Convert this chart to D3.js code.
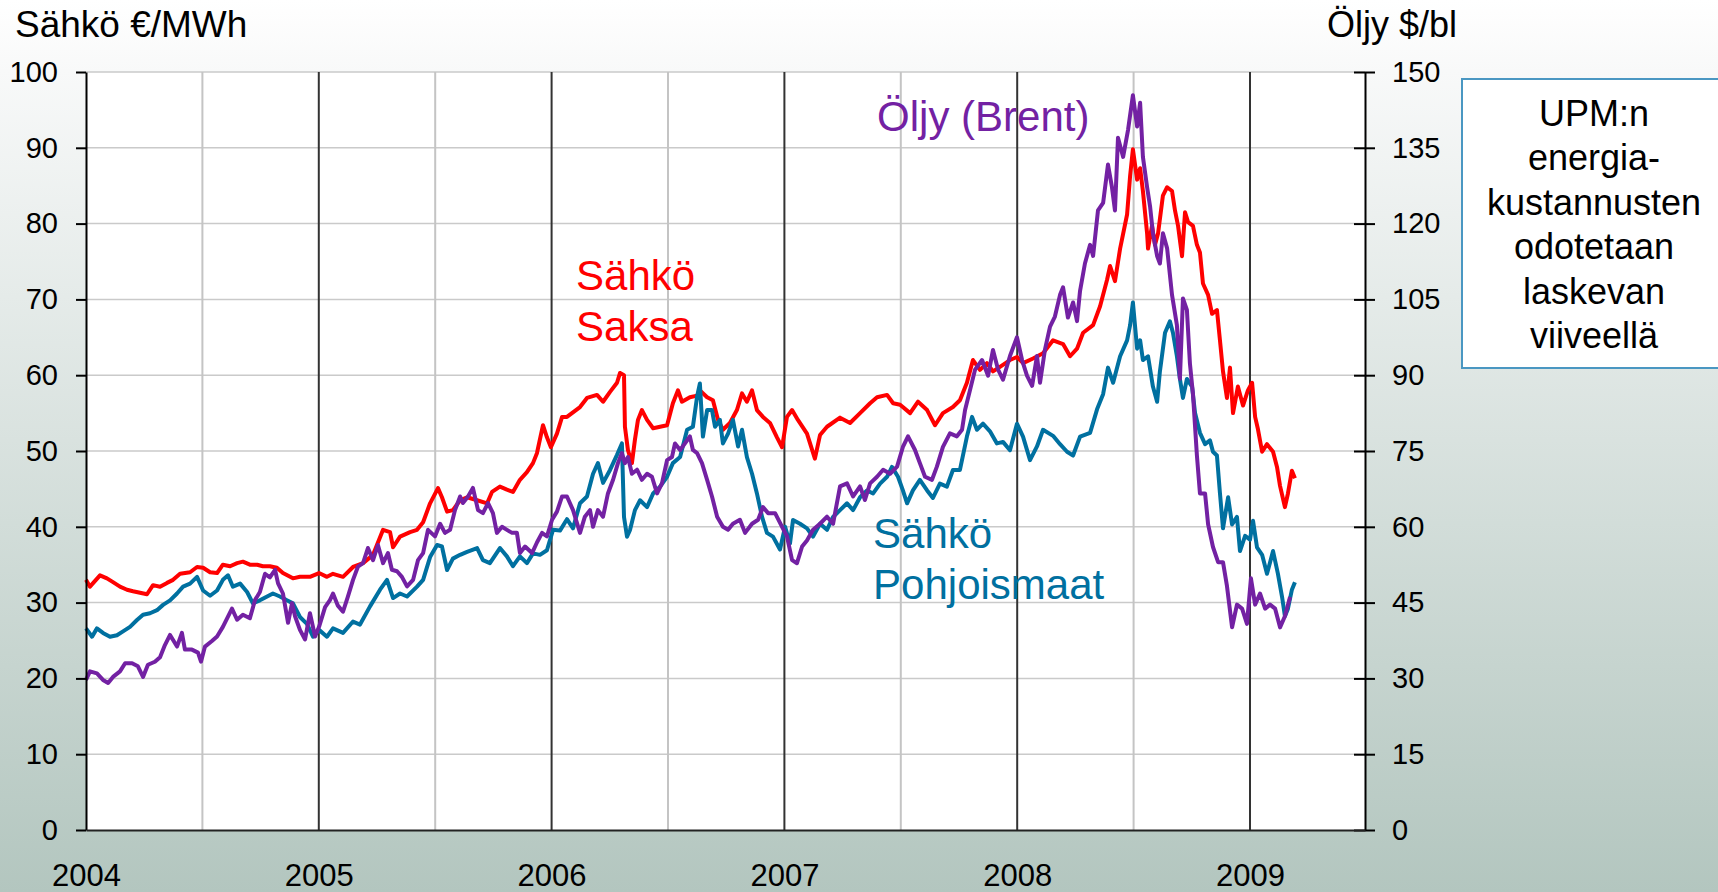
<!DOCTYPE html>
<html>
<head>
<meta charset="utf-8">
<script src="https://cdn.jsdelivr.net/npm/d3@7"></script>
<style>
  body { margin: 0; overflow: hidden; }
  text { font-family: "Liberation Sans", Arial, sans-serif; }
</style>
</head>
<body>
<div id="chart"></div>
<script>
// tick values
var years = [2004, 2005, 2006, 2007, 2008, 2009];
var halfYears = [2004.5, 2005.5, 2006.5, 2007.5, 2008.5];
var leftTicks = [0, 10, 20, 30, 40, 50, 60, 70, 80, 90, 100];
var rightTicks = [0, 15, 30, 45, 60, 75, 90, 105, 120, 135, 150];
var boxLines = ["UPM:n", "energia-", "kustannusten", "odotetaan", "laskevan", "viiveellä"];

// Sähkö Saksa, €/MWh  [decimal year, value]
var saksa = [[2004.000,33.0],[2004.017,32.1],[2004.060,33.6],[2004.090,33.2],[2004.116,32.7],[2004.146,32.1],[2004.176,31.7],[2004.202,31.5],[2004.232,31.3],[2004.262,31.1],[2004.288,32.3],[2004.318,32.1],[2004.348,32.6],[2004.374,33.0],[2004.404,33.8],[2004.447,34.0],[2004.477,34.7],[2004.503,34.6],[2004.533,34.0],[2004.563,33.9],[2004.588,35.0],[2004.619,34.8],[2004.649,35.2],[2004.674,35.4],[2004.704,35.0],[2004.735,35.0],[2004.760,34.8],[2004.790,34.8],[2004.820,34.6],[2004.846,33.9],[2004.889,33.2],[2004.919,33.4],[2004.962,33.4],[2005.001,33.9],[2005.035,33.4],[2005.061,33.8],[2005.104,33.4],[2005.147,34.7],[2005.190,35.2],[2005.233,36.3],[2005.276,39.6],[2005.306,39.3],[2005.319,37.3],[2005.349,38.7],[2005.392,39.3],[2005.422,39.6],[2005.448,40.6],[2005.478,43.1],[2005.512,45.1],[2005.529,43.9],[2005.551,42.0],[2005.576,42.2],[2005.607,43.5],[2005.637,43.9],[2005.680,43.5],[2005.723,43.1],[2005.744,44.6],[2005.778,45.3],[2005.808,44.9],[2005.834,44.6],[2005.864,46.2],[2005.894,47.2],[2005.920,48.4],[2005.937,49.7],[2005.963,53.4],[2005.980,51.8],[2005.997,50.5],[2006.023,52.3],[2006.045,54.5],[2006.066,54.5],[2006.122,55.8],[2006.152,57.0],[2006.195,57.4],[2006.221,56.5],[2006.251,57.8],[2006.281,59.0],[2006.294,60.3],[2006.311,60.0],[2006.315,53.2],[2006.328,50.1],[2006.345,48.4],[2006.358,51.5],[2006.371,54.1],[2006.388,55.4],[2006.410,54.1],[2006.436,53.0],[2006.466,53.2],[2006.496,53.4],[2006.521,56.3],[2006.543,58.0],[2006.560,56.5],[2006.594,57.1],[2006.625,57.3],[2006.637,58.0],[2006.668,57.1],[2006.693,56.7],[2006.715,54.1],[2006.736,52.8],[2006.766,53.7],[2006.796,55.4],[2006.818,57.6],[2006.839,56.5],[2006.861,58.0],[2006.882,55.4],[2006.908,54.5],[2006.938,53.7],[2006.968,51.8],[2006.990,50.5],[2007.011,54.5],[2007.033,55.4],[2007.058,54.1],[2007.097,52.3],[2007.131,49.0],[2007.153,52.1],[2007.183,53.2],[2007.239,54.4],[2007.282,53.7],[2007.325,55.0],[2007.368,56.3],[2007.398,57.1],[2007.441,57.4],[2007.467,56.3],[2007.497,56.1],[2007.540,55.0],[2007.574,56.5],[2007.613,55.4],[2007.647,53.4],[2007.681,55.0],[2007.724,55.8],[2007.754,56.7],[2007.784,59.0],[2007.810,62.0],[2007.840,60.7],[2007.870,61.6],[2007.896,60.5],[2007.926,61.1],[2007.969,62.0],[2007.999,62.4],[2008.025,61.6],[2008.068,62.2],[2008.111,62.9],[2008.154,64.6],[2008.197,64.1],[2008.227,62.5],[2008.257,63.5],[2008.283,65.6],[2008.326,66.6],[2008.356,69.1],[2008.386,72.6],[2008.399,74.4],[2008.420,72.4],[2008.442,76.7],[2008.472,81.2],[2008.485,86.3],[2008.497,89.8],[2008.515,85.8],[2008.528,87.3],[2008.540,84.3],[2008.558,78.7],[2008.562,76.7],[2008.579,79.7],[2008.592,77.2],[2008.605,78.7],[2008.626,83.7],[2008.644,84.8],[2008.665,84.3],[2008.678,81.7],[2008.691,79.7],[2008.708,75.7],[2008.721,81.5],[2008.734,80.2],[2008.755,79.7],[2008.772,77.2],[2008.785,76.2],[2008.798,72.1],[2008.820,70.6],[2008.837,68.1],[2008.858,68.6],[2008.871,64.6],[2008.884,60.5],[2008.901,57.0],[2008.914,61.0],[2008.927,55.0],[2008.948,58.5],[2008.970,56.0],[2008.991,58.0],[2009.009,59.0],[2009.022,54.5],[2009.034,52.9],[2009.052,49.9],[2009.073,50.9],[2009.099,49.9],[2009.116,47.9],[2009.129,45.4],[2009.150,42.6],[2009.163,44.4],[2009.180,47.4],[2009.193,46.4]];

// Sähkö Pohjoismaat, €/MWh
var pohjoismaat = [[2004.000,26.6],[2004.026,25.5],[2004.047,26.6],[2004.073,26.0],[2004.103,25.5],[2004.133,25.7],[2004.159,26.2],[2004.189,26.8],[2004.219,27.7],[2004.245,28.4],[2004.275,28.6],[2004.305,29.0],[2004.331,29.7],[2004.361,30.3],[2004.391,31.2],[2004.417,32.1],[2004.447,32.5],[2004.477,33.4],[2004.503,31.6],[2004.533,30.9],[2004.563,31.6],[2004.588,33.0],[2004.610,33.6],[2004.631,32.1],[2004.662,32.5],[2004.692,31.4],[2004.717,29.9],[2004.747,30.3],[2004.778,30.8],[2004.803,31.2],[2004.833,30.8],[2004.863,30.3],[2004.889,29.9],[2004.919,28.1],[2004.949,27.2],[2004.975,25.5],[2005.001,26.4],[2005.035,25.5],[2005.061,26.6],[2005.104,26.0],[2005.147,27.5],[2005.177,27.1],[2005.220,29.5],[2005.263,31.7],[2005.293,33.0],[2005.319,30.6],[2005.349,31.2],[2005.379,30.8],[2005.422,32.1],[2005.448,33.0],[2005.478,36.0],[2005.508,37.6],[2005.529,37.4],[2005.551,34.3],[2005.576,35.8],[2005.607,36.3],[2005.637,36.7],[2005.680,37.2],[2005.705,35.6],[2005.735,35.2],[2005.778,37.2],[2005.808,36.1],[2005.834,34.8],[2005.864,36.1],[2005.894,35.2],[2005.920,36.5],[2005.950,36.3],[2005.980,36.9],[2006.006,39.6],[2006.036,39.5],[2006.066,41.0],[2006.092,39.8],[2006.122,43.1],[2006.152,44.0],[2006.178,47.0],[2006.199,48.4],[2006.221,45.8],[2006.251,47.5],[2006.281,49.5],[2006.302,51.0],[2006.311,41.3],[2006.324,38.7],[2006.337,39.6],[2006.358,42.2],[2006.380,43.5],[2006.410,42.6],[2006.436,44.4],[2006.466,45.3],[2006.496,46.6],[2006.521,48.4],[2006.552,49.2],[2006.582,52.8],[2006.607,53.2],[2006.625,57.2],[2006.637,58.9],[2006.650,51.9],[2006.668,55.4],[2006.689,55.4],[2006.702,53.2],[2006.723,54.1],[2006.736,51.0],[2006.758,52.3],[2006.779,54.1],[2006.801,50.6],[2006.818,52.8],[2006.839,49.2],[2006.861,47.0],[2006.882,44.4],[2006.904,41.3],[2006.925,39.2],[2006.951,38.7],[2006.981,37.0],[2007.003,40.0],[2007.024,37.8],[2007.037,40.9],[2007.067,40.4],[2007.097,39.8],[2007.123,38.7],[2007.153,40.4],[2007.183,39.6],[2007.209,41.3],[2007.239,42.2],[2007.269,43.1],[2007.295,42.2],[2007.325,43.9],[2007.355,44.8],[2007.381,44.4],[2007.411,45.7],[2007.441,46.6],[2007.462,47.9],[2007.488,46.6],[2007.509,44.8],[2007.527,43.1],[2007.552,44.8],[2007.582,46.2],[2007.613,44.8],[2007.638,43.8],[2007.668,45.7],[2007.698,45.3],[2007.724,47.5],[2007.754,47.5],[2007.784,51.9],[2007.806,54.5],[2007.827,52.8],[2007.853,53.6],[2007.883,52.6],[2007.913,51.0],[2007.939,51.2],[2007.969,50.1],[2007.999,53.6],[2008.025,51.9],[2008.055,48.8],[2008.085,50.6],[2008.111,52.8],[2008.154,52.0],[2008.184,50.9],[2008.214,49.9],[2008.240,49.4],[2008.270,51.9],[2008.313,52.4],[2008.343,55.5],[2008.369,57.5],[2008.390,61.0],[2008.412,59.0],[2008.442,62.5],[2008.472,64.6],[2008.485,66.6],[2008.497,69.6],[2008.515,63.5],[2008.528,64.6],[2008.540,62.0],[2008.562,62.5],[2008.583,58.5],[2008.601,56.5],[2008.613,60.5],[2008.635,65.6],[2008.656,67.1],[2008.669,65.6],[2008.686,62.5],[2008.699,59.5],[2008.712,57.0],[2008.729,59.5],[2008.751,58.5],[2008.764,55.0],[2008.785,52.4],[2008.807,50.9],[2008.828,51.4],[2008.841,49.9],[2008.858,49.4],[2008.871,44.4],[2008.884,39.8],[2008.906,43.9],[2008.923,40.3],[2008.944,41.3],[2008.957,36.8],[2008.979,38.8],[2009.000,38.3],[2009.013,40.8],[2009.030,37.3],[2009.052,36.3],[2009.073,33.8],[2009.086,35.3],[2009.099,36.8],[2009.120,33.8],[2009.138,30.7],[2009.150,28.2],[2009.163,29.2],[2009.180,31.7],[2009.193,32.7]];

// Öljy (Brent), $/bl
var brent = [[2004.000,29.7],[2004.017,31.4],[2004.047,31.0],[2004.073,29.7],[2004.095,29.1],[2004.116,30.3],[2004.146,31.4],[2004.168,33.0],[2004.198,33.0],[2004.223,32.4],[2004.245,30.3],[2004.266,32.7],[2004.296,33.3],[2004.318,34.2],[2004.339,36.6],[2004.361,38.6],[2004.391,36.3],[2004.412,39.0],[2004.425,35.7],[2004.455,35.7],[2004.481,35.1],[2004.494,33.3],[2004.511,36.3],[2004.541,37.4],[2004.563,38.3],[2004.588,40.2],[2004.627,43.8],[2004.649,41.6],[2004.674,42.6],[2004.704,41.9],[2004.726,45.5],[2004.747,47.1],[2004.769,50.7],[2004.790,50.0],[2004.812,51.5],[2004.825,48.8],[2004.846,46.8],[2004.868,41.0],[2004.885,44.9],[2004.898,42.3],[2004.919,39.6],[2004.941,37.7],[2004.962,42.9],[2004.984,38.3],[2005.001,40.2],[2005.027,44.1],[2005.048,45.5],[2005.061,46.8],[2005.082,44.4],[2005.104,43.2],[2005.125,46.2],[2005.147,49.5],[2005.168,52.1],[2005.190,52.8],[2005.211,55.8],[2005.233,53.4],[2005.254,56.4],[2005.276,52.8],[2005.297,54.8],[2005.314,51.5],[2005.336,51.2],[2005.357,50.1],[2005.379,48.2],[2005.405,49.5],[2005.426,53.4],[2005.448,54.8],[2005.469,59.4],[2005.499,58.1],[2005.521,60.6],[2005.542,58.8],[2005.564,59.4],[2005.585,63.3],[2005.607,66.0],[2005.619,64.7],[2005.641,66.0],[2005.662,67.7],[2005.684,63.3],[2005.705,62.7],[2005.727,64.7],[2005.748,62.7],[2005.765,58.8],[2005.787,60.0],[2005.808,59.4],[2005.830,58.8],[2005.851,58.8],[2005.864,54.8],[2005.886,56.1],[2005.916,54.8],[2005.937,56.9],[2005.959,58.8],[2005.980,58.1],[2006.002,61.4],[2006.023,63.0],[2006.045,66.0],[2006.066,66.0],[2006.092,63.3],[2006.122,58.8],[2006.143,62.0],[2006.165,63.3],[2006.178,60.0],[2006.199,63.3],[2006.221,62.0],[2006.242,66.6],[2006.264,69.3],[2006.285,72.6],[2006.302,74.6],[2006.315,72.6],[2006.328,73.8],[2006.345,70.5],[2006.367,71.3],[2006.388,69.3],[2006.410,70.5],[2006.431,69.9],[2006.453,66.6],[2006.474,68.6],[2006.496,73.2],[2006.517,73.8],[2006.530,76.5],[2006.552,75.2],[2006.573,76.5],[2006.594,77.9],[2006.607,75.2],[2006.625,74.6],[2006.646,72.6],[2006.668,69.3],[2006.689,66.0],[2006.711,62.0],[2006.736,60.0],[2006.758,59.4],[2006.779,60.6],[2006.809,61.4],[2006.831,58.8],[2006.861,60.6],[2006.887,61.4],[2006.908,63.9],[2006.930,62.7],[2006.960,62.7],[2006.990,60.0],[2007.011,58.1],[2007.033,53.4],[2007.054,52.8],[2007.076,56.1],[2007.097,57.3],[2007.123,59.4],[2007.153,60.6],[2007.183,62.0],[2007.209,60.6],[2007.239,68.0],[2007.269,68.6],[2007.295,66.0],[2007.325,68.0],[2007.346,65.3],[2007.368,68.6],[2007.398,69.9],[2007.424,71.3],[2007.454,70.5],[2007.484,71.9],[2007.509,75.8],[2007.531,77.9],[2007.561,75.2],[2007.582,72.6],[2007.604,69.9],[2007.634,69.3],[2007.655,71.9],[2007.681,75.8],[2007.711,78.5],[2007.741,77.9],[2007.763,79.2],[2007.776,83.1],[2007.797,87.0],[2007.819,91.1],[2007.849,93.0],[2007.875,89.9],[2007.896,95.0],[2007.918,91.1],[2007.939,89.1],[2007.969,93.8],[2007.999,97.5],[2008.021,93.0],[2008.042,89.9],[2008.064,87.9],[2008.085,93.8],[2008.098,88.5],[2008.119,95.0],[2008.141,99.6],[2008.162,101.6],[2008.184,105.9],[2008.197,107.4],[2008.218,101.4],[2008.240,104.4],[2008.257,100.7],[2008.270,106.7],[2008.291,112.1],[2008.313,115.8],[2008.326,113.6],[2008.347,122.6],[2008.369,124.1],[2008.390,131.7],[2008.407,127.2],[2008.420,122.6],[2008.433,137.0],[2008.455,133.2],[2008.476,138.5],[2008.497,145.4],[2008.515,139.2],[2008.528,143.9],[2008.540,133.2],[2008.558,127.2],[2008.571,123.3],[2008.583,118.1],[2008.601,113.6],[2008.613,112.1],[2008.626,118.1],[2008.644,115.1],[2008.665,105.9],[2008.686,99.9],[2008.699,89.3],[2008.712,105.2],[2008.729,102.9],[2008.742,92.3],[2008.755,86.3],[2008.772,74.1],[2008.785,66.6],[2008.807,66.6],[2008.820,60.5],[2008.841,56.0],[2008.863,53.0],[2008.884,53.0],[2008.901,48.3],[2008.923,40.1],[2008.944,44.6],[2008.966,43.8],[2008.987,40.8],[2009.004,49.8],[2009.022,44.6],[2009.043,46.8],[2009.065,43.8],[2009.086,44.6],[2009.108,43.8],[2009.129,40.1],[2009.150,42.3],[2009.172,46.1]];

var width = 1718, height = 892;
var plotLeft = 86, plotRight = 1365, plotTop = 72, plotBottom = 830;
var font = '"Liberation Sans", Arial, sans-serif';

var colors = {
  saksa: "#ff0000",
  pohjois: "#0070a0",
  brent: "#7321a3",
  box: "#4a97c2"
};

var svg = d3.select("#chart").append("svg")
  .attr("width", width).attr("height", height);

// background gradient
var grad = svg.append("defs").append("linearGradient")
  .attr("id", "bg").attr("x1", 0).attr("y1", 0).attr("x2", 0).attr("y2", 1);
grad.append("stop").attr("offset", "0%").attr("stop-color", "#ffffff");
grad.append("stop").attr("offset", "8%").attr("stop-color", "#f8f9f9");
grad.append("stop").attr("offset", "100%").attr("stop-color", "#b3c6bf");
svg.append("rect").attr("width", width).attr("height", height).attr("fill", "url(#bg)");

var x = d3.scaleLinear().domain([2004, 2004 + (plotRight - plotLeft) / 232.8]).range([plotLeft, plotRight]);
var yL = d3.scaleLinear().domain([0, 100]).range([plotBottom, plotTop]);
var yR = d3.scaleLinear().domain([0, 150]).range([plotBottom, plotTop]);

// plot area
svg.append("rect")
  .attr("x", plotLeft).attr("y", plotTop)
  .attr("width", plotRight - plotLeft).attr("height", plotBottom - plotTop)
  .attr("fill", "#ffffff");

// horizontal grid
svg.append("g").selectAll("line").data(leftTicks.slice(1)).enter().append("line")
  .attr("x1", plotLeft).attr("x2", plotRight)
  .attr("y1", function(d) { return yL(d); })
  .attr("y2", function(d) { return yL(d); })
  .style("stroke", "#cacaca").style("stroke-width", 1.5);

// half year lines
svg.append("g").selectAll("line").data(halfYears).enter().append("line")
  .attr("x1", function(d) { return x(d); }).attr("x2", function(d) { return x(d); })
  .attr("y1", plotTop).attr("y2", plotBottom)
  .style("stroke", "#c4c4c4").style("stroke-width", 2);

// year lines
svg.append("g").selectAll("line").data(years.slice(1)).enter().append("line")
  .attr("x1", function(d) { return x(d); }).attr("x2", function(d) { return x(d); })
  .attr("y1", plotTop).attr("y2", plotBottom)
  .style("stroke", "#333333").style("stroke-width", 2);

// series
var line = function(yScale) {
  return d3.line()
    .x(function(d) { return x(d[0]); })
    .y(function(d) { return yScale(d[1]); });
};
var series = [
  { data: saksa, y: yL, color: colors.saksa },
  { data: pohjoismaat, y: yL, color: colors.pohjois },
  { data: brent, y: yR, color: colors.brent }
];
series.forEach(function(s) {
  svg.append("path")
    .attr("d", line(s.y)(s.data))
    .attr("fill", "none")
    .style("stroke", s.color)
    .style("stroke-width", 4)
    .style("stroke-linejoin", "round");
});

// axes
function styleAxis(g, size) {
  g.attr("font-family", font).attr("font-size", size);
  g.selectAll("text").attr("fill", "#000");
  g.selectAll("line").style("stroke", "#000").style("stroke-width", 2);
  g.select(".domain").style("stroke", "#000").style("stroke-width", 2);
}

var axL = svg.append("g").attr("transform", "translate(" + plotLeft + ",0)")
  .call(d3.axisLeft(yL).tickValues(leftTicks).tickSize(10).tickSizeOuter(0).tickPadding(18));
styleAxis(axL, 29);

var axR = svg.append("g").attr("transform", "translate(" + plotRight + ",0)")
  .call(d3.axisRight(yR).tickValues(rightTicks).tickSize(10).tickSizeOuter(0).tickPadding(17));
styleAxis(axR, 29);
axR.selectAll(".tick").append("line").attr("x2", -11)
  .style("stroke", "#000").style("stroke-width", 2);

var axB = svg.append("g").attr("transform", "translate(0," + plotBottom + ")")
  .call(d3.axisBottom(x).tickValues(years).tickFormat(d3.format("d")).tickSize(0).tickSizeOuter(0).tickPadding(34));
styleAxis(axB, 31);
axB.select(".domain").style("stroke", "#222");

// axis titles
svg.append("text").attr("x", 15).attr("y", 37)
  .attr("font-size", 37).text("Sähkö €/MWh");
svg.append("text").attr("x", 1327).attr("y", 37)
  .attr("font-size", 36).text("Öljy $/bl");

// series labels
function label(t, v, lines, color) {
  var txt = svg.append("text")
    .attr("x", x(t)).attr("y", yL(v))
    .attr("font-size", 42).attr("fill", color);
  lines.forEach(function(s, i) {
    txt.append("tspan").attr("x", x(t)).attr("dy", i ? 51 : 0).text(s);
  });
}
label(2006.105, 71.2, ["Sähkö", "Saksa"], colors.saksa);
label(2007.398, 92.2, ["Öljy (Brent)"], colors.brent);
label(2007.381, 37.2, ["Sähkö", "Pohjoismaat"], colors.pohjois);

// note box
svg.append("rect")
  .attr("x", 1462).attr("y", 79).attr("width", 280).attr("height", 289)
  .attr("fill", "#ffffff")
  .style("stroke", colors.box).style("stroke-width", 2);
svg.append("g").selectAll("text").data(boxLines).enter().append("text")
  .attr("x", 1594)
  .attr("y", function(d, i) { return 126 + i * 44.4; })
  .attr("text-anchor", "middle")
  .attr("font-size", 36)
  .text(function(d) { return d; });
</script>
</body>
</html>
